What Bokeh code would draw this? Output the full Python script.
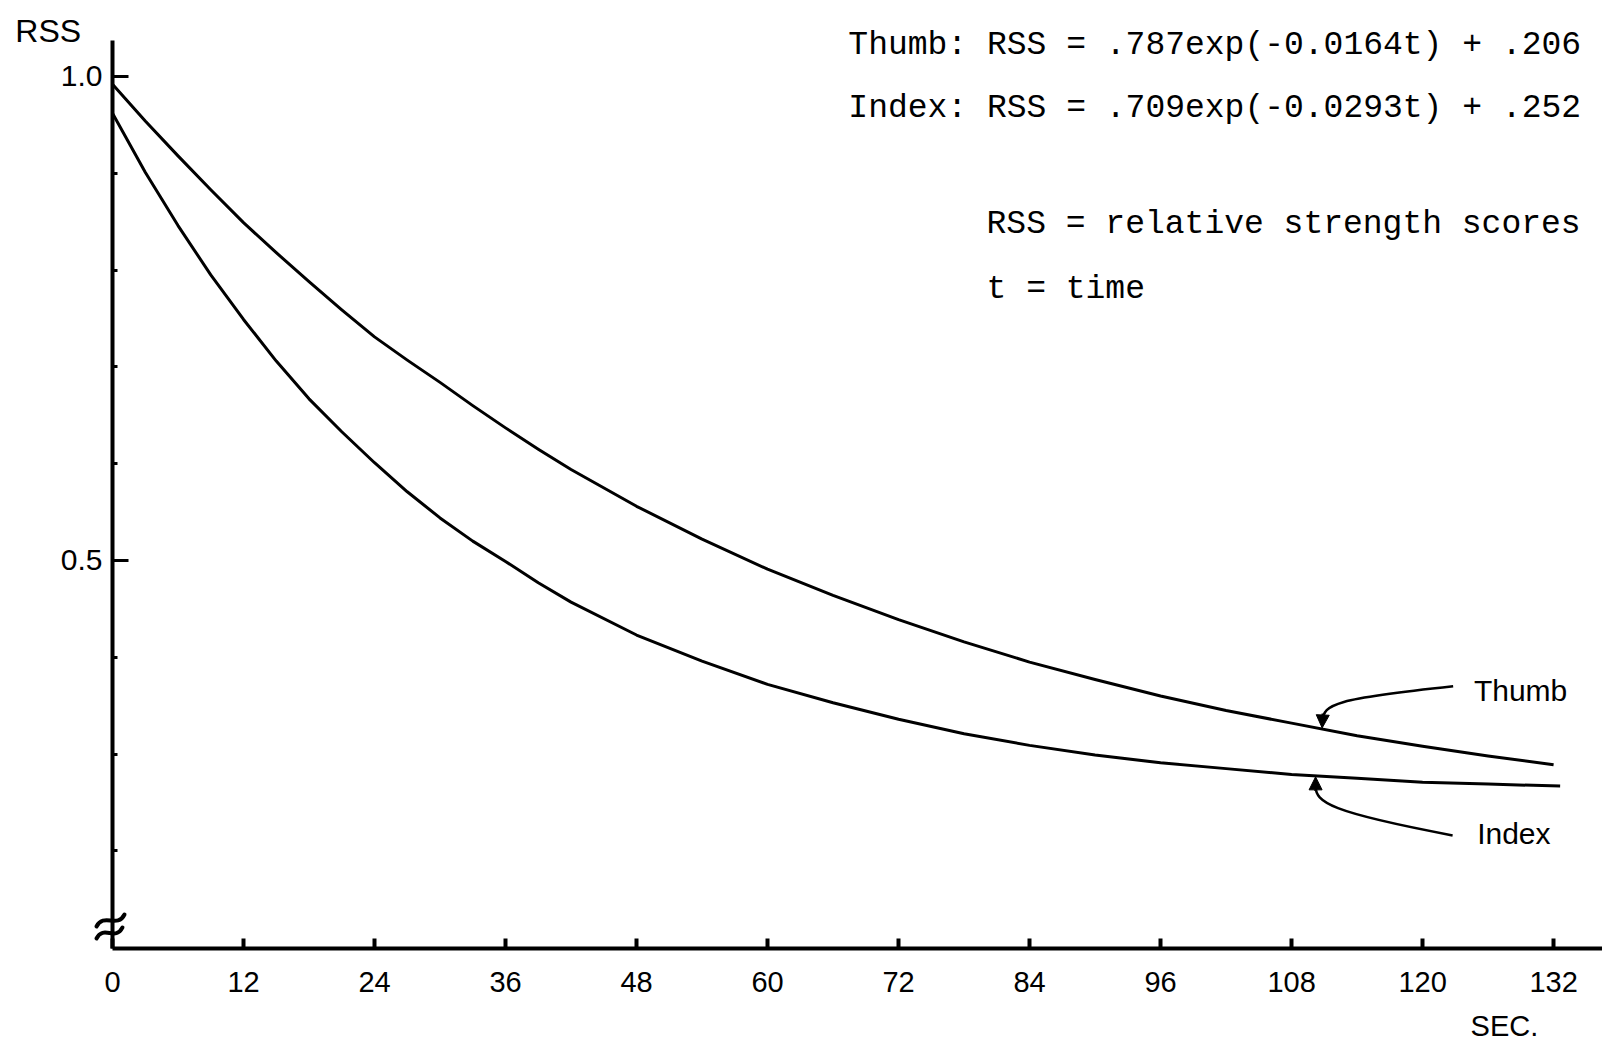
from bokeh.plotting import figure
from bokeh.models import Range1d, FixedTicker, Label, Arrow, NormalHead
from bokeh.embed import file_html
from bokeh.resources import INLINE

# ---- data ----
thumb_t = [0, 3, 6, 9, 12, 15, 18, 21, 24, 27, 30, 33, 36, 39, 42, 48, 54, 60, 66,
           72, 78, 84, 90, 96, 102, 108, 114, 120, 126, 132]
thumb_rss = [0.992, 0.954, 0.918, 0.883, 0.849, 0.818, 0.788, 0.759, 0.731, 0.707,
             0.684, 0.660, 0.637, 0.615, 0.594, 0.556, 0.522, 0.491, 0.464, 0.439,
             0.416, 0.395, 0.377, 0.360, 0.345, 0.332, 0.319, 0.308, 0.298, 0.289]

index_t = [0, 3, 6, 9, 12, 15, 18, 21, 24, 27, 30, 33, 36, 39, 42, 48, 54, 60, 66,
           72, 78, 84, 90, 96, 102, 108, 114, 120, 126, 132.6]
index_rss = [0.962, 0.901, 0.846, 0.795, 0.749, 0.706, 0.667, 0.633, 0.601, 0.571,
             0.544, 0.520, 0.499, 0.477, 0.457, 0.423, 0.396, 0.372, 0.353, 0.336,
             0.321, 0.309, 0.299, 0.291, 0.285, 0.279, 0.275, 0.271, 0.269, 0.267]

x_ticks = [0, 12, 24, 36, 48, 60, 72, 84, 96, 108, 120, 132]
y_major = [0.5, 1.0]
y_minor = [0.2, 0.3, 0.4, 0.6, 0.7, 0.8, 0.9]
y_labels = {0.5: "0.5", 1.0: "1.0"}

eq_thumb = "Thumb: RSS = .787exp(-0.0164t) + .206"
eq_index = "Index: RSS = .709exp(-0.0293t) + .252"
note_rss = "RSS = relative strength scores"
note_t = "t = time"

SANS = "Liberation Sans"
MONO = "Liberation Mono"

X_MIN, X_MAX = -10.259, 136.48      # whole canvas width
Y_MIN, Y_MAX = 0.00207, 1.0785      # whole canvas height
Y_BASE = 0.0992                     # where the time axis sits
Y_TOP = 1.0372                      # top end of the RSS axis

p = figure(width=1602, height=1042, output_backend="svg", toolbar_location=None,
           x_range=Range1d(X_MIN, X_MAX), y_range=Range1d(Y_MIN, Y_MAX),
           min_border=0, min_border_left=0, min_border_right=0,
           min_border_top=0, min_border_bottom=0)
p.title.visible = False
p.outline_line_color = None
p.grid.visible = False
p.background_fill_color = "white"
p.border_fill_color = "white"

# x axis
xa = p.xaxis[0]
xa.fixed_location = Y_BASE
xa.bounds = (0, X_MAX)
xa.ticker = FixedTicker(ticks=x_ticks)
xa.axis_line_width = 4
xa.axis_line_color = "black"
xa.major_tick_in = 10
xa.major_tick_out = 0
xa.major_tick_line_width = 4
xa.major_tick_line_color = "black"
xa.minor_tick_line_color = None
xa.major_label_text_font = SANS
xa.major_label_text_font_size = "29px"
xa.major_label_text_color = "black"
xa.major_label_standoff = 24

# y axis
ya = p.yaxis[0]
ya.fixed_location = 0
ya.bounds = (Y_BASE, Y_TOP)
ya.ticker = FixedTicker(ticks=y_major, minor_ticks=y_minor)
ya.major_label_overrides = y_labels
ya.axis_line_width = 4
ya.axis_line_color = "black"
ya.major_tick_in = 16
ya.major_tick_out = 0
ya.major_tick_line_width = 3
ya.major_tick_line_color = "black"
ya.minor_tick_in = 5
ya.minor_tick_out = 0
ya.minor_tick_line_width = 3
ya.minor_tick_line_color = "black"
ya.major_label_text_font = SANS
ya.major_label_text_font_size = "30px"
ya.major_label_text_color = "black"
ya.major_label_standoff = 10

# curves
p.line(thumb_t, thumb_rss, line_width=3, line_color="black", line_join="round")
p.line(index_t, index_rss, line_width=3, line_color="black", line_join="round")

# pointer arrows
p.bezier(x0=[122.8], y0=[0.370], cx0=[112.0], cy0=[0.357], cx1=[110.9], cy1=[0.352],
         x1=[110.85], y1=[0.334], line_width=2.5, line_color="black")
p.add_layout(Arrow(end=NormalHead(size=13, fill_color="black", line_color="black"),
                   x_start=110.86, y_start=0.342, x_end=110.8, y_end=0.327,
                   line_width=2.5, line_color="black"))
p.bezier(x0=[122.75], y0=[0.216], cx0=[111.5], cy0=[0.240], cx1=[110.2], cy1=[0.250],
         x1=[110.2], y1=[0.267], line_width=2.5, line_color="black")
p.add_layout(Arrow(end=NormalHead(size=13, fill_color="black", line_color="black"),
                   x_start=110.2, y_start=0.262, x_end=110.2, y_end=0.2765,
                   line_width=2.5, line_color="black"))

# axis break mark on the RSS axis
p.bezier(x0=[-1.466, -1.466], y0=[0.1219, 0.1095],
         cx0=[-0.824, -0.824], cy0=[0.1364, 0.1240],
         cx1=[0.458, 0.275], cy1=[0.1198, 0.1064],
         x1=[1.099, 0.916], y1=[0.1343, 0.1209],
         line_width=4, line_color="black", line_cap="round")

def lab(x, y, text, font, size, align="left", baseline="middle"):
    p.add_layout(Label(x=x, y=y, text=text, text_font=font, text_font_size=size,
                       text_align=align, text_baseline=baseline, text_color="black"))

lab(124.7, 0.366, "Thumb", SANS, "30px")
lab(125.0, 0.218, "Index", SANS, "30px")

lab(67.4, 1.032, eq_thumb, MONO, "33px")
lab(67.4, 0.967, eq_index, MONO, "33px")
lab(80.06, 0.847, note_rss, MONO, "33px")
lab(80.06, 0.780, note_t, MONO, "33px")

lab(-8.9, 1.0465, "RSS", SANS, "32px")
lab(124.4, 0.0196, "SEC.", SANS, "29px")

open("out.html", "w").write(file_html(p, INLINE))
